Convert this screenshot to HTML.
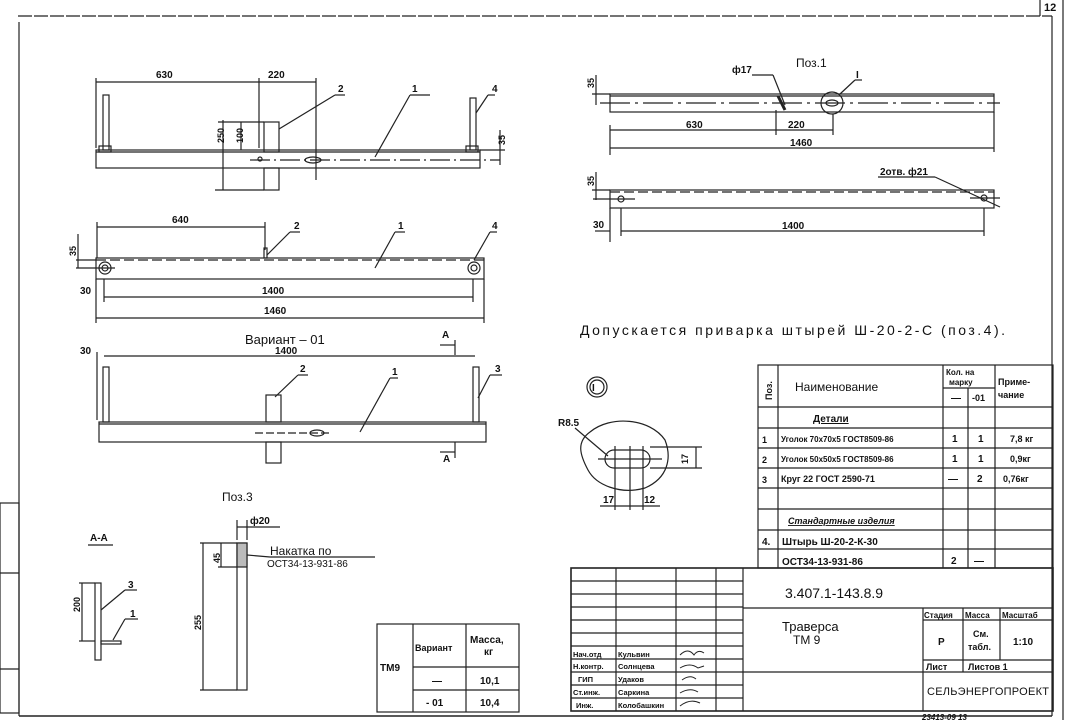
<!DOCTYPE html>
<html><head><meta charset="utf-8"><style>
html,body{margin:0;padding:0;background:#fff;}
svg{display:block;}
text{font-family:"Liberation Sans","DejaVu Sans",sans-serif;fill:#111;}
</style></head><body>
<svg width="1069" height="721" viewBox="0 0 1069 721" xmlns="http://www.w3.org/2000/svg">
<g stroke="#222" stroke-width="1.2" fill="none">
<!-- frame -->
<line x1="18" y1="16" x2="1052" y2="16" stroke-dasharray="14 2"/>
<line x1="19" y1="22" x2="19" y2="716"/>
<line x1="1052" y1="16" x2="1052" y2="716"/>
<line x1="19" y1="716" x2="1052" y2="716" stroke-width="1.6"/>
<line x1="1040" y1="0" x2="1040" y2="16"/>
<line x1="1063" y1="0" x2="1063" y2="720"/>
<rect x="0" y="503" width="19" height="210"/>
<line x1="0" y1="573" x2="19" y2="573"/><line x1="0" y1="669" x2="19" y2="669"/>

<!-- view 1 top-left -->
<rect x="96" y="150" width="384" height="18"/>
<line x1="96" y1="152" x2="480" y2="152"/>
<line x1="96" y1="82" x2="316" y2="82"/>
<line x1="96" y1="78" x2="96" y2="148"/><line x1="259" y1="78" x2="259" y2="148"/><line x1="316" y1="78" x2="316" y2="180"/>
<rect x="103" y="95" width="6" height="55"/><rect x="470" y="98" width="6" height="52"/>
<rect x="99" y="146" width="12" height="6"/><rect x="466" y="146" width="12" height="6"/>
<rect x="264" y="122" width="15" height="30"/><rect x="264" y="168" width="15" height="22"/>
<line x1="223" y1="120" x2="223" y2="190"/><line x1="215" y1="190" x2="264" y2="190"/><line x1="218" y1="122" x2="264" y2="122"/>
<line x1="241" y1="122" x2="241" y2="150"/>
<line x1="250" y1="160" x2="500" y2="160" stroke-dasharray="20 4 2 4"/>
<ellipse cx="313" cy="160" rx="8" ry="3"/><circle cx="260" cy="159" r="2"/>
<line x1="279" y1="129" x2="335" y2="95"/><line x1="335" y1="95" x2="345" y2="95"/>
<line x1="375" y1="157" x2="410" y2="95"/><line x1="410" y1="95" x2="430" y2="95"/>
<line x1="476" y1="113" x2="488" y2="95"/><line x1="488" y1="95" x2="495" y2="95"/>
<line x1="500" y1="130" x2="500" y2="165"/><line x1="480" y1="150" x2="505" y2="150"/>

<!-- view 2 -->
<rect x="96" y="258" width="388" height="21"/>
<line x1="96" y1="260" x2="484" y2="260" stroke-dasharray="10 4"/>
<circle cx="105" cy="268" r="6"/><circle cx="105" cy="268" r="3"/>
<circle cx="474" cy="268" r="6"/><circle cx="474" cy="268" r="3"/>
<line x1="97" y1="227" x2="265" y2="227"/><line x1="97" y1="222" x2="97" y2="258"/><line x1="265" y1="222" x2="265" y2="250"/>
<rect x="264" y="248" width="3" height="10"/>
<line x1="267" y1="255" x2="290" y2="232"/><line x1="290" y1="232" x2="300" y2="232"/>
<line x1="375" y1="268" x2="395" y2="232"/><line x1="395" y1="232" x2="405" y2="232"/>
<line x1="474" y1="260" x2="490" y2="232"/><line x1="490" y1="232" x2="497" y2="232"/>
<line x1="78" y1="234" x2="78" y2="268"/><line x1="76" y1="260" x2="96" y2="260"/><line x1="76" y1="268" x2="115" y2="268"/>
<line x1="104" y1="297" x2="473" y2="297"/><line x1="96" y1="318" x2="484" y2="318"/>
<line x1="104" y1="279" x2="104" y2="302"/><line x1="473" y1="279" x2="473" y2="302"/>
<line x1="96" y1="279" x2="96" y2="323"/><line x1="484" y1="279" x2="484" y2="323"/>

<!-- view 3 -->
<line x1="104" y1="356" x2="475" y2="356"/>
<line x1="97" y1="352" x2="97" y2="420"/>
<rect x="99" y="422" width="387" height="20"/><line x1="99" y1="424" x2="486" y2="424"/>
<rect x="103" y="367" width="6" height="55"/><rect x="473" y="367" width="6" height="55"/>
<rect x="266" y="395" width="15" height="27"/><rect x="266" y="442" width="15" height="21"/>
<line x1="255" y1="433" x2="330" y2="433" stroke-dasharray="8 3"/><ellipse cx="317" cy="433" rx="7" ry="3"/>
<line x1="275" y1="397" x2="298" y2="375"/><line x1="298" y1="375" x2="308" y2="375"/>
<line x1="360" y1="432" x2="390" y2="378"/><line x1="390" y1="378" x2="398" y2="378"/>
<line x1="478" y1="398" x2="490" y2="375"/><line x1="490" y1="375" x2="502" y2="375"/>
<line x1="455" y1="340" x2="455" y2="355"/><line x1="440" y1="345" x2="455" y2="345"/>
<line x1="455" y1="442" x2="455" y2="458"/><line x1="440" y1="452" x2="455" y2="452"/>

<!-- A-A -->
<line x1="88" y1="545" x2="113" y2="545"/>
<rect x="95" y="583" width="6" height="77"/>
<rect x="101" y="641" width="20" height="3"/>
<line x1="79" y1="583" x2="95" y2="583"/><line x1="79" y1="641" x2="95" y2="641"/><line x1="82" y1="583" x2="82" y2="641"/>
<line x1="101" y1="610" x2="125" y2="590"/><line x1="125" y1="590" x2="137" y2="590"/>
<line x1="113" y1="640" x2="125" y2="619"/><line x1="125" y1="619" x2="138" y2="619"/>

<!-- pos 3 -->
<rect x="237" y="543" width="10" height="147"/>
<rect x="237" y="543" width="10" height="24" fill="#bbb"/>
<line x1="200" y1="543" x2="237" y2="543"/><line x1="200" y1="690" x2="237" y2="690"/>
<line x1="203" y1="543" x2="203" y2="690"/>
<line x1="218" y1="567" x2="237" y2="567"/><line x1="221" y1="543" x2="221" y2="567"/>
<line x1="237" y1="520" x2="237" y2="540"/><line x1="247" y1="520" x2="247" y2="540"/>
<line x1="237" y1="527" x2="280" y2="527"/>
<line x1="247" y1="555" x2="270" y2="557"/><line x1="270" y1="557" x2="375" y2="557"/>

<!-- mass table -->
<rect x="377" y="624" width="142" height="88"/>
<line x1="413" y1="624" x2="413" y2="712"/><line x1="466" y1="624" x2="466" y2="712"/>
<line x1="413" y1="667" x2="519" y2="667"/><line x1="413" y1="690" x2="519" y2="690"/>

<!-- pos1 right views -->
<rect x="610" y="94" width="384" height="18"/><line x1="610" y1="96" x2="994" y2="96"/>
<line x1="600" y1="103" x2="1000" y2="103" stroke-dasharray="30 5 3 5"/>
<circle cx="832" cy="103" r="11"/><ellipse cx="832" cy="103" rx="6" ry="3"/>
<line x1="778" y1="96" x2="785" y2="110" stroke-width="3"/>
<line x1="752" y1="75" x2="773" y2="75"/><line x1="773" y1="75" x2="785" y2="105"/>
<line x1="840" y1="94" x2="855" y2="80"/><line x1="855" y1="80" x2="862" y2="80"/>
<line x1="610" y1="125" x2="610" y2="155"/><line x1="776" y1="110" x2="776" y2="135"/><line x1="833" y1="114" x2="833" y2="135"/><line x1="994" y1="112" x2="994" y2="152"/>
<line x1="610" y1="130" x2="833" y2="130"/><line x1="610" y1="148" x2="994" y2="148"/>
<line x1="596" y1="75" x2="596" y2="105"/><line x1="592" y1="94" x2="610" y2="94"/>
<rect x="610" y="190" width="384" height="18"/>
<line x1="610" y1="192" x2="994" y2="192" stroke-dasharray="10 4"/>
<circle cx="621" cy="199" r="3"/><circle cx="984" cy="198" r="3"/>
<line x1="593" y1="199" x2="635" y2="199"/><line x1="970" y1="198" x2="1000" y2="198"/>
<line x1="596" y1="172" x2="596" y2="200"/><line x1="592" y1="190" x2="610" y2="190"/>
<line x1="610" y1="208" x2="610" y2="242"/><line x1="621" y1="208" x2="621" y2="236"/><line x1="984" y1="208" x2="984" y2="236"/>
<line x1="621" y1="231" x2="984" y2="231"/><line x1="595" y1="231" x2="610" y2="231"/>
<line x1="878" y1="177" x2="935" y2="177"/><line x1="935" y1="177" x2="1000" y2="207"/>

<!-- detail I -->
<circle cx="597" cy="387" r="10"/><circle cx="597" cy="387" r="7"/>
<path d="M590,432 C610,415 650,418 665,440 C672,458 668,478 645,488 C620,495 596,485 588,470 C580,455 576,442 590,432 Z"/>
<rect x="605" y="450" width="45" height="18" rx="9"/>
<line x1="598" y1="459" x2="662" y2="459"/>
<line x1="615" y1="446" x2="615" y2="510"/><line x1="630" y1="446" x2="630" y2="510"/><line x1="643" y1="446" x2="643" y2="510"/>
<line x1="650" y1="447" x2="702" y2="447"/><line x1="650" y1="468" x2="702" y2="468"/><line x1="696" y1="447" x2="696" y2="468"/>
<line x1="575" y1="428" x2="608" y2="456"/>
<line x1="600" y1="506" x2="660" y2="506"/>

<!-- spec table -->
<rect x="758" y="365" width="295" height="203"/>
<line x1="778" y1="365" x2="778" y2="568"/><line x1="943" y1="365" x2="943" y2="568"/>
<line x1="968" y1="388" x2="968" y2="568"/><line x1="995" y1="365" x2="995" y2="568"/>
<line x1="943" y1="388" x2="995" y2="388"/>
<line x1="758" y1="407" x2="1053" y2="407"/>
<line x1="758" y1="428" x2="1053" y2="428"/><line x1="758" y1="448" x2="1053" y2="448"/>
<line x1="758" y1="468" x2="1053" y2="468"/><line x1="758" y1="488" x2="1053" y2="488"/>
<line x1="758" y1="509" x2="1053" y2="509"/><line x1="758" y1="530" x2="1053" y2="530"/>
<line x1="758" y1="549" x2="1053" y2="549"/>

<!-- title block -->
<rect x="571" y="568" width="482" height="143" stroke-width="1.6"/>
<line x1="616" y1="568" x2="616" y2="711"/><line x1="676" y1="568" x2="676" y2="711"/>
<line x1="716" y1="568" x2="716" y2="711"/><line x1="743" y1="568" x2="743" y2="711"/>
<line x1="571" y1="581" x2="743" y2="581"/><line x1="571" y1="594" x2="743" y2="594"/>
<line x1="571" y1="607" x2="743" y2="607"/><line x1="571" y1="620" x2="743" y2="620"/>
<line x1="571" y1="633" x2="743" y2="633"/><line x1="571" y1="646" x2="743" y2="646"/>
<line x1="571" y1="659" x2="743" y2="659"/><line x1="571" y1="672" x2="743" y2="672"/>
<line x1="571" y1="685" x2="743" y2="685"/><line x1="571" y1="698" x2="743" y2="698"/>
<line x1="743" y1="608" x2="1053" y2="608"/>
<line x1="743" y1="672" x2="923" y2="672"/>
<line x1="923" y1="608" x2="923" y2="711"/>
<line x1="923" y1="620" x2="1053" y2="620"/><line x1="923" y1="660" x2="1053" y2="660"/><line x1="923" y1="672" x2="1053" y2="672"/>
<line x1="963" y1="608" x2="963" y2="660"/><line x1="1000" y1="608" x2="1000" y2="660"/>
<line x1="963" y1="660" x2="963" y2="672"/>
</g>

<g font-size="10" font-weight="bold">
<text x="1044" y="11" font-size="11">12</text>
<text x="156" y="78">630</text><text x="268" y="78">220</text>
<text x="338" y="92">2</text><text x="412" y="92">1</text><text x="492" y="92">4</text>
<text x="224" y="143" transform="rotate(-90 224 143)" font-size="9">250</text>
<text x="243" y="143" transform="rotate(-90 243 143)" font-size="9">100</text>
<text x="505" y="145" transform="rotate(-90 505 145)" font-size="9">35</text>
<text x="172" y="223">640</text><text x="294" y="229">2</text><text x="398" y="229">1</text><text x="492" y="229">4</text>
<text x="76" y="256" transform="rotate(-90 76 256)" font-size="9">35</text>
<text x="80" y="294">30</text><text x="262" y="294">1400</text><text x="264" y="314">1460</text>
<text x="245" y="344" font-size="13" font-weight="normal">Вариант – 01</text>
<text x="442" y="338">А</text><text x="443" y="462">А</text>
<text x="80" y="354">30</text><text x="275" y="354">1400</text>
<text x="300" y="372">2</text><text x="392" y="375">1</text><text x="495" y="372">3</text>
<text x="222" y="501" font-size="12" font-weight="normal">Поз.3</text>
<text x="90" y="541">А-А</text>
<text x="128" y="588">3</text><text x="130" y="617">1</text>
<text x="80" y="612" transform="rotate(-90 80 612)" font-size="9">200</text>
<text x="250" y="524">ф20</text>
<text x="270" y="555" font-size="12" font-weight="normal">Накатка по</text>
<text x="267" y="567" font-size="10" font-weight="normal">ОСТ34-13-931-86</text>
<text x="220" y="563" transform="rotate(-90 220 563)" font-size="9">45</text>
<text x="201" y="630" transform="rotate(-90 201 630)" font-size="9">255</text>
<text x="380" y="671">ТМ9</text>
<text x="415" y="651" font-size="9">Вариант</text>
<text x="470" y="643">Масса,</text><text x="484" y="655">кг</text>
<text x="432" y="684">—</text><text x="480" y="684">10,1</text>
<text x="426" y="706">- 01</text><text x="480" y="706">10,4</text>

<text x="796" y="67" font-size="12" font-weight="normal">Поз.1</text>
<text x="732" y="73">ф17</text><text x="856" y="78">I</text>
<text x="594" y="88" transform="rotate(-90 594 88)" font-size="9">35</text>
<text x="686" y="128">630</text><text x="788" y="128">220</text><text x="790" y="146">1460</text>
<text x="880" y="175">2отв. ф21</text>
<text x="594" y="186" transform="rotate(-90 594 186)" font-size="9">35</text>
<text x="593" y="228">30</text><text x="782" y="229">1400</text>
<text x="580" y="335" font-size="14" font-weight="normal" textLength="425">Допускается приварка штырей Ш-20-2-С (поз.4).</text>

<text x="592" y="391" font-size="10">I</text>
<text x="558" y="426">R8.5</text>
<text x="688" y="464" transform="rotate(-90 688 464)" font-size="9">17</text>
<text x="603" y="503">17</text><text x="644" y="503">12</text>

<text x="772" y="400" transform="rotate(-90 772 400)" font-size="9">Поз.</text>
<text x="795" y="391" font-size="12" font-weight="normal">Наименование</text>
<text x="946" y="375" font-size="8">Кол. на</text><text x="949" y="385" font-size="8">марку</text>
<text x="951" y="401">—</text><text x="972" y="401" font-size="9">-01</text>
<text x="998" y="385" font-size="9">Приме-</text><text x="998" y="398" font-size="9">чание</text>
<text x="813" y="422" text-decoration="underline">Детали</text>
<text x="762" y="443" font-size="9">1</text><text x="781" y="442" font-size="8">Уголок 70х70х5 ГОСТ8509-86</text><text x="952" y="442">1</text><text x="978" y="442">1</text><text x="1010" y="442" font-size="9">7,8 кг</text>
<text x="762" y="463" font-size="9">2</text><text x="781" y="462" font-size="8">Уголок 50х50х5 ГОСТ8509-86</text><text x="952" y="462">1</text><text x="978" y="462">1</text><text x="1010" y="462" font-size="9">0,9кг</text>
<text x="762" y="483" font-size="9">3</text><text x="781" y="482" font-size="9">Круг 22 ГОСТ 2590-71</text><text x="948" y="482">—</text><text x="977" y="482">2</text><text x="1003" y="482" font-size="9">0,76кг</text>
<text x="788" y="524" font-size="9" font-style="italic" text-decoration="underline">Стандартные изделия</text>
<text x="762" y="545">4.</text><text x="782" y="545">Штырь  Ш-20-2-К-30</text>
<text x="782" y="565">ОСТ34-13-931-86</text><text x="951" y="564">2</text><text x="974" y="564">—</text>

<text x="785" y="598" font-size="14" font-weight="normal">3.407.1-143.8.9</text>
<text x="782" y="631" font-size="13" font-weight="normal">Траверса</text>
<text x="793" y="644" font-size="12" font-weight="normal">ТМ 9</text>
<text x="924" y="618" font-size="8">Стадия</text><text x="965" y="618" font-size="8">Масса</text><text x="1002" y="618" font-size="8">Масштаб</text>
<text x="938" y="645">Р</text><text x="973" y="637" font-size="9">См.</text><text x="968" y="650" font-size="9">табл.</text><text x="1013" y="645">1:10</text>
<text x="926" y="670" font-size="9">Лист</text><text x="968" y="670" font-size="9">Листов  1</text>
<text x="927" y="695" font-size="11" font-weight="normal" textLength="122">СЕЛЬЭНЕРГОПРОЕКТ</text>
<text x="922" y="720" font-size="8" font-style="italic">23413-09   13</text>
<g font-size="7.5">
<text x="573" y="657">Нач.отд</text><text x="618" y="657">Кульвин</text>
<text x="573" y="669">Н.контр.</text><text x="618" y="669">Солнцева</text>
<text x="578" y="682">ГИП</text><text x="618" y="682">Удаков</text>
<text x="573" y="695">Ст.инж.</text><text x="618" y="695">Саркина</text>
<text x="576" y="708">Инж.</text><text x="618" y="708">Колобашкин</text>
</g>
</g>
<g stroke="#222" stroke-width="1" fill="none">
<path d="M680,655 q8,-8 14,0 q4,-6 10,-2"/><path d="M680,668 q10,-6 18,0 l6,-2"/><path d="M682,680 q8,-6 14,-1"/><path d="M680,693 q10,-6 18,-1"/><path d="M680,706 q10,-8 20,-3"/>
</g>
</svg>
</body></html>
